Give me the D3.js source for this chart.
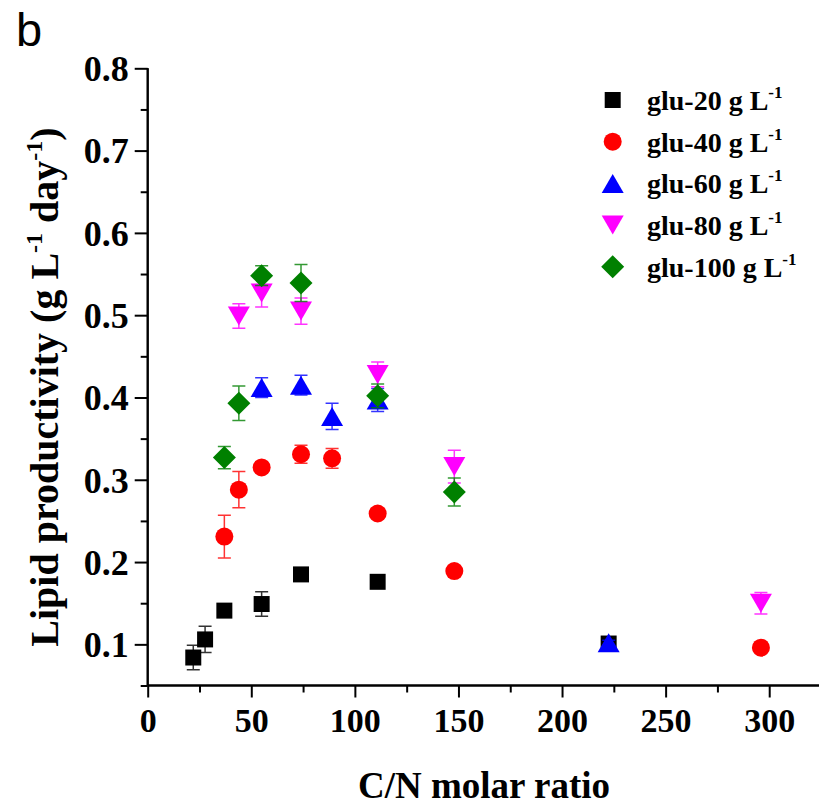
<!DOCTYPE html>
<html>
<head>
<meta charset="utf-8">
<script src="https://cdn.jsdelivr.net/npm/d3@7/dist/d3.min.js"></script>
<style>
  html, body { margin: 0; padding: 0; background: #fff; }
  svg { display: block; }
  text { font-family: "Liberation Serif", "Times New Roman", serif; font-weight: bold; fill: #000; }
</style>
</head>
<body>
<script>
// ---- data ----
const seriesNames = ["glu-20 g L", "glu-40 g L", "glu-60 g L", "glu-80 g L", "glu-100 g L"];
const seriesColors = ["#000000", "#ff0000", "#0000ff", "#ff00ff", "#008000"];

const glu20X = [22, 27.7, 37, 55, 74, 111, 222.5];
const glu20Y = [0.084, 0.106, 0.141, 0.149, 0.185, 0.176, 0.101];
const glu20E = [0.015, 0.016, 0.004, 0.015, 0.004, 0.004, 0.003];

const glu40X = [37, 44, 55, 74, 89, 111, 148, 296];
const glu40Y = [0.231, 0.288, 0.315, 0.331, 0.326, 0.259, 0.189, 0.096];
const glu40E = [0.026, 0.022, 0.005, 0.011, 0.012, 0.005, 0.004, 0.004];

const glu60X = [55, 74, 89, 111, 222.5];
const glu60Y = [0.412, 0.415, 0.377, 0.397, 0.102];
const glu60E = [0.012, 0.012, 0.016, 0.014, 0.003];

const glu80X = [44, 55, 74, 111, 148, 296];
const glu80Y = [0.499, 0.527, 0.505, 0.428, 0.316, 0.150];
const glu80E = [0.015, 0.017, 0.016, 0.015, 0.020, 0.013];

const glu100X = [37, 44, 55, 74, 111, 148];
const glu100Y = [0.327, 0.393, 0.548, 0.539, 0.402, 0.285];
const glu100E = [0.0135, 0.021, 0.012, 0.0225, 0.0145, 0.017];

const xTicks = [0, 50, 100, 150, 200, 250, 300];
const xMinorTicks = [25, 75, 125, 175, 225, 275];
const yTicks = [0.1, 0.2, 0.3, 0.4, 0.5, 0.6, 0.7, 0.8];
const yMinorTicks = [0.05, 0.15, 0.25, 0.35, 0.45, 0.55, 0.65, 0.75];

const xTitle = "C/N molar ratio";
const panelLabel = "b";

// ---- build ----
const series = [
  { name: seriesNames[0], color: seriesColors[0], shape: "square",   x: glu20X,  y: glu20Y,  e: glu20E },
  { name: seriesNames[1], color: seriesColors[1], shape: "circle",   x: glu40X,  y: glu40Y,  e: glu40E },
  { name: seriesNames[2], color: seriesColors[2], shape: "triUp",    x: glu60X,  y: glu60Y,  e: glu60E },
  { name: seriesNames[3], color: seriesColors[3], shape: "triDown",  x: glu80X,  y: glu80Y,  e: glu80E },
  { name: seriesNames[4], color: seriesColors[4], shape: "diamond",  x: glu100X, y: glu100Y, e: glu100E }
];

const W = 819, H = 805;
const svg = d3.select("body").append("svg").attr("width", W).attr("height", H);

const x = d3.scaleLinear().domain([0, 325]).range([147.7, 821]);
const y = d3.scaleLinear().domain([0.05, 0.8]).range([685.5, 68.3]);

// custom symbol types
const symTypes = {
  square: { draw(c) { const h = 8; c.rect(-h, -h, 2 * h, 2 * h); } },
  circle: { draw(c) { c.moveTo(9, 0); c.arc(0, 0, 9, 0, 2 * Math.PI); } },
  triUp: { draw(c) { c.moveTo(0, -9.5); c.lineTo(11, 9.5); c.lineTo(-11, 9.5); c.closePath(); } },
  triDown: { draw(c) { c.moveTo(0, 9.5); c.lineTo(11, -9.5); c.lineTo(-11, -9.5); c.closePath(); } },
  diamond: { draw(c) { const h = 11.5; c.moveTo(0, -h); c.lineTo(h, 0); c.lineTo(0, h); c.lineTo(-h, 0); c.closePath(); } }
};

// axes
const axisStroke = 2;
const gx = svg.append("g").attr("transform", `translate(0,${y(0.05)})`);
gx.call(d3.axisBottom(x).tickValues(xTicks).tickSize(12).tickPadding(10).tickFormat(d3.format("d")));
gx.append("g").call(d3.axisBottom(x).tickValues(xMinorTicks).tickSize(7).tickFormat(""));
gx.selectAll(".domain").attr("stroke-width", axisStroke);
gx.selectAll(".tick line").attr("stroke-width", axisStroke);
gx.selectAll(".tick text").style("font-family", '"Liberation Serif", serif').style("font-weight", "bold").style("font-size", "34px");
gx.selectAll(".domain").attr("d", `M${x(0)},0H${W + 5}`);

const gy = svg.append("g").attr("transform", `translate(${x(0)},0)`);
gy.call(d3.axisLeft(y).tickValues(yTicks).tickSize(13).tickPadding(6).tickFormat(d3.format(".1f")));
gy.append("g").call(d3.axisLeft(y).tickValues(yMinorTicks).tickSize(7).tickFormat(""));
gy.selectAll(".domain").attr("stroke-width", axisStroke).attr("d", `M0,${y(0.8)}V${y(0.05)}`);
gy.selectAll(".tick line").attr("stroke-width", axisStroke);
gy.selectAll(".tick text").style("font-family", '"Liberation Serif", serif').style("font-weight", "bold").style("font-size", "36px").attr("dy", "0.34em");

// series
series.forEach(s => {
  const g = svg.append("g");
  const pts = s.x.map((xv, i) => ({ x: xv, y: s.y[i], e: s.e[i] }));
  const eb = g.append("g").attr("stroke", s.color).attr("stroke-width", 1.5).attr("stroke-opacity", 0.8).attr("fill", "none");
  pts.forEach(p => {
    const cx = x(p.x), y1 = y(p.y + p.e), y0 = y(p.y - p.e);
    eb.append("path").attr("d", `M${cx},${y1}V${y0}M${cx - 6.5},${y1}H${cx + 6.5}M${cx - 6.5},${y0}H${cx + 6.5}`);
  });
  g.selectAll("path.m").data(pts).enter().append("path").attr("class", "m")
    .attr("d", d3.symbol().type(symTypes[s.shape]))
    .attr("transform", d => `translate(${x(d.x)},${y(d.y)})`)
    .attr("fill", s.color);
});

// legend
const legend = svg.append("g");
series.forEach((s, i) => {
  const ly = 100 + i * 41.7;
  legend.append("path").attr("d", d3.symbol().type(symTypes[s.shape]))
    .attr("transform", `translate(612.7,${ly})`).attr("fill", s.color);
  const t = legend.append("text").attr("x", 647).attr("y", ly + 10).style("font-size", "28px");
  t.append("tspan").text(s.name);
  t.append("tspan").attr("dy", -12).style("font-size", "17px").text("-1");
});

// axis titles
svg.append("text").attr("x", 484).attr("y", 798).attr("text-anchor", "middle")
  .style("font-size", "37px").text(xTitle);

const yt = svg.append("text").attr("transform", "translate(58,387) rotate(-90)")
  .attr("text-anchor", "middle").style("font-size", "40px");
yt.append("tspan").text("Lipid productivity (g L");
yt.append("tspan").attr("dy", -16).style("font-size", "24px").text("-1");
yt.append("tspan").attr("dy", 16).text(" day");
yt.append("tspan").attr("dy", -16).style("font-size", "24px").text("-1");
yt.append("tspan").attr("dy", 16).text(")");

// panel label
svg.append("text").attr("x", 16).attr("y", 46)
  .style("font-family", '"Liberation Sans", Arial, sans-serif').style("font-weight", "normal")
  .style("font-size", "47px").text(panelLabel);
</script>
</body>
</html>
